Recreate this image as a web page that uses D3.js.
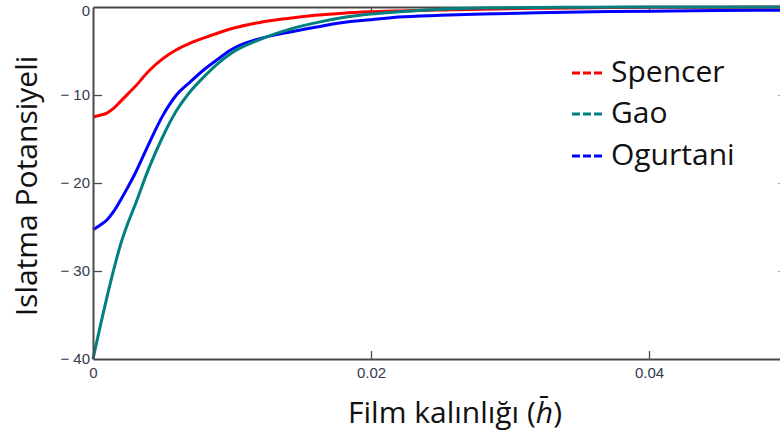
<!DOCTYPE html>
<html>
<head>
<meta charset="utf-8">
<script src="https://cdn.jsdelivr.net/npm/d3@7"></script>
<style>
  html, body { margin: 0; padding: 0; background: #fff; }
  svg { display: block; }
</style>
</head>
<body>
<svg id="chart" width="780" height="436"></svg>
<script>
// ---- data ----
const thickness = [0, 0.0005, 0.001, 0.0015, 0.002, 0.0025, 0.003, 0.004, 0.005, 0.006, 0.007, 0.008, 0.009, 0.010, 0.012, 0.014, 0.016, 0.018, 0.020, 0.022, 0.025, 0.028, 0.032, 0.036, 0.040, 0.045, 0.050];
const spencer  = [-12.5, -12.3, -12.05, -11.5, -10.7, -9.9, -9.1, -7.3, -5.9, -4.85, -4.1, -3.5, -2.95, -2.45, -1.75, -1.3, -0.95, -0.7, -0.55, -0.45, -0.35, -0.25, -0.15, -0.08, -0.04, -0.02, -0.01];
const gao      = [-40, -36.4, -33.0, -29.8, -26.9, -24.6, -22.6, -18.4, -14.8, -11.8, -9.6, -7.9, -6.4, -5.2, -3.7, -2.6, -1.8, -1.2, -0.8, -0.55, -0.25, -0.1, -0.05, -0.02, -0.01, 0, 0];
const ogurtani = [-25.3, -24.8, -24.2, -23.2, -21.9, -20.5, -19.0, -15.6, -12.4, -10.0, -8.5, -7.1, -5.9, -4.8, -3.6, -2.9, -2.3, -1.75, -1.45, -1.15, -0.95, -0.8, -0.65, -0.55, -0.47, -0.4, -0.35];
const seriesNames = ["Spencer", "Gao", "Ogurtani"];
const seriesColors = ["#ff0000", "#008080", "#0000ff"];
const xTicks = [0, 0.02, 0.04];
const xTickLabels = ["0", "0.02", "0.04"];
const yTicks = [0, -10, -20, -30, -40];
const yTickLabels = ["0", "\u2212 10", "\u2212 20", "\u2212 30", "\u2212 40"];
const xTitle = "Film kalınlığı (";
const yTitle = "Islatma Potansiyeli";

// ---- layout ----
const svg = d3.select("#chart");
const L = 93, T = 7, B = 359, R = 788;
const x = d3.scaleLinear().domain([0, 0.05]).range([L, R]);
const y = d3.scaleLinear().domain([-40, 0]).range([B, T]);
const axisColor = "#4a4a4a";
const labelColor = "#353a50";
const tickFont = "Arial, 'Liberation Sans', sans-serif";
const titleFont = "'Open Sans', 'Noto Sans', sans-serif";

function styleAxis(g) {
  g.selectAll(".domain").attr("stroke", axisColor).attr("stroke-width", 2);
  g.selectAll(".tick line").attr("stroke", axisColor).attr("stroke-width", 1.3);
  g.selectAll(".tick text").attr("fill", labelColor).attr("font-family", tickFont).attr("font-size", 15);
}

// frame: top & right axes (ticks inside, no labels)
svg.append("g").attr("transform", `translate(0,${T})`)
  .call(d3.axisTop(x).tickValues(xTicks.slice(1)).tickSize(-6).tickSizeOuter(0).tickFormat(""))
  .call(styleAxis);
svg.append("g").attr("transform", `translate(${R - 2},0)`)
  .call(d3.axisRight(y).tickValues(yTicks.slice(1, -1)).tickSize(-8).tickSizeOuter(0).tickFormat(""))
  .call(g => { styleAxis(g); g.selectAll(".tick line").attr("stroke", "#aaa").attr("stroke-width", 1); });

// lines
const series = [spencer, gao, ogurtani];
const line = d3.line().x((d, i) => x(thickness[i])).y(d => y(d)).curve(d3.curveMonotoneX);
const drawOrder = [2, 0, 1];
svg.append("g").selectAll("path").data(drawOrder).join("path")
  .attr("d", k => line(series[k]))
  .attr("fill", "none")
  .attr("stroke", k => seriesColors[k])
  .attr("stroke-width", 3)
  .attr("stroke-linejoin", "round");

// bottom & left axes
svg.append("g").attr("transform", `translate(0,${B})`)
  .call(d3.axisBottom(x).tickValues(xTicks).tickSize(-8).tickSizeOuter(0).tickPadding(8)
    .tickFormat((d, i) => xTickLabels[i]))
  .call(styleAxis)
  .call(g => g.selectAll(".tick line").filter(d => d === 0).remove());
svg.append("g").attr("transform", `translate(${L},0)`)
  .call(d3.axisLeft(y).tickValues(yTicks).tickSize(-9).tickSizeOuter(0).tickPadding(3)
    .tickFormat((d, i) => yTickLabels[i]))
  .call(styleAxis)
  .call(g => g.selectAll(".tick line").filter(d => d === 0 || d === -40).remove())
  .call(g => g.selectAll(".tick text").filter(d => d === 0).attr("dy", "0.55em"));

// axis titles
const xt = svg.append("text")
  .attr("x", 455).attr("y", 423)
  .attr("text-anchor", "middle")
  .attr("font-family", titleFont).attr("font-size", 30).attr("fill", "#111");
xt.append("tspan").text(xTitle);
xt.append("tspan").attr("font-style", "italic").text("h\u0304");
xt.append("tspan").text(")");

svg.append("text")
  .attr("transform", "translate(37,186) rotate(-90)")
  .attr("text-anchor", "middle")
  .attr("font-family", titleFont).attr("font-size", 30).attr("fill", "#111")
  .text(yTitle);

// legend
const legendY = [82, 123, 165];
const lg = svg.append("g");
seriesNames.forEach((name, i) => {
  lg.append("line")
    .attr("x1", 572).attr("x2", 602)
    .attr("y1", legendY[i] - 9).attr("y2", legendY[i] - 9)
    .attr("stroke", seriesColors[i]).attr("stroke-width", 3)
    .attr("stroke-dasharray", "8,3");
  lg.append("text")
    .attr("x", 611).attr("y", legendY[i])
    .attr("font-family", titleFont).attr("font-size", 30).attr("fill", "#111")
    .text(name);
});
</script>
</body>
</html>
